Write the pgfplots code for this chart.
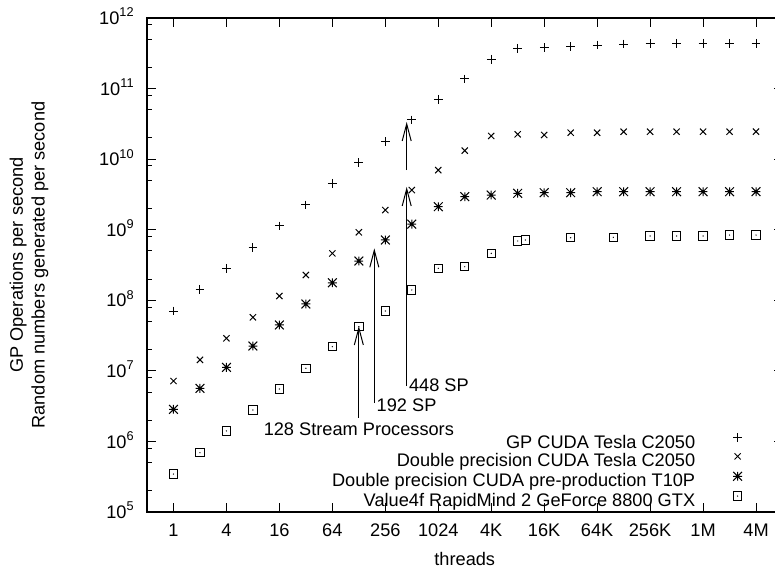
\documentclass[border=0pt]{standalone}
\usepackage{fontspec}
\setmainfont{Liberation Sans}
\usepackage{pgfplots}
\pgfplotsset{compat=1.18}
\usetikzlibrary{arrows.meta}

\pgfdeclareplotmark{gpstar}{%
  \pgfpathmoveto{\pgfqpoint{-\pgfplotmarksize}{0pt}}\pgfpathlineto{\pgfqpoint{\pgfplotmarksize}{0pt}}%
  \pgfpathmoveto{\pgfqpoint{0pt}{-\pgfplotmarksize}}\pgfpathlineto{\pgfqpoint{0pt}{\pgfplotmarksize}}%
  \pgfpathmoveto{\pgfqpoint{-\pgfplotmarksize}{-\pgfplotmarksize}}\pgfpathlineto{\pgfqpoint{\pgfplotmarksize}{\pgfplotmarksize}}%
  \pgfpathmoveto{\pgfqpoint{-\pgfplotmarksize}{\pgfplotmarksize}}\pgfpathlineto{\pgfqpoint{\pgfplotmarksize}{-\pgfplotmarksize}}%
  \pgfusepathqstroke}
\pgfdeclareplotmark{sqdot}{%
  \pgfpathrectangle{\pgfqpoint{-\pgfplotmarksize}{-\pgfplotmarksize}}{\pgfqpoint{2\pgfplotmarksize}{2\pgfplotmarksize}}%
  \pgfusepathqstroke
  \pgfpathcircle{\pgfpointorigin}{0.35pt}\pgfusepathqfill}

\begin{document}
\begin{tikzpicture}[font=\fontsize{9.1}{10.9}\selectfont]
\useasboundingbox (-73.5pt,-28.5pt) rectangle (314pt,256pt);
\clip (-73.5pt,-28.5pt) rectangle (314pt,256pt);
\begin{axis}[
  at={(0pt,0pt)}, anchor=south west,
  scale only axis, width=317.75pt, height=247pt,
  xmode=log, ymode=log,
  xmin=0.5, xmax=8388608, ymin=1e5, ymax=1e12,
  xtick={1,4,16,64,256,1024,4096,16384,65536,262144,1048576,4194304},
  xticklabels={1,4,16,64,256,1024,4K,16K,64K,256K,1M,4M},
  ytick={1e5,1e6,1e7,1e8,1e9,1e10,1e11,1e12},
  yticklabels={10\textsuperscript{5},10\textsuperscript{6},10\textsuperscript{7},10\textsuperscript{8},10\textsuperscript{9},10\textsuperscript{10},10\textsuperscript{11},10\textsuperscript{12}},
  minor ytick={2e5,5e5,8e5,2e6,5e6,8e6,2e7,5e7,8e7,2e8,5e8,8e8,2e9,5e9,8e9,2e10,5e10,8e10,2e11,5e11,8e11},
  minor xtick={},
  tick align=inside, tick pos=both,
  major tick length=4.5pt, minor tick length=2.5pt,
  every tick/.style={black, line width=0.5pt},
  axis line style={line width=0.9pt},
  xticklabel style={anchor=base, yshift=-12.25pt, inner sep=0pt},
  yticklabel style={anchor=base east, xshift=-6pt, yshift=-3.3pt, inner sep=0pt},
  xlabel={threads},
  xlabel style={at={(axis description cs:0.5,-0.1073)}, anchor=base, inner sep=0pt},
  ylabel={GP Operations per second\\Random numbers generated per second},
  ylabel style={at={(axis description cs:-0.1857,0.5)}, anchor=center, align=center, inner sep=0pt},
  legend cell align=right, legend plot pos=right,
  legend image code/.code={\draw[mark repeat=2,mark phase=2,#1] plot coordinates {(-5pt,3.2pt) (0pt,3.2pt) (5pt,3.2pt)};},
  legend style={draw=none, fill=none, at={(rel axis cs:0.9363,0.1593)}, anchor=north east,
    inner sep=0pt, outer sep=0pt, row sep=0pt, /tikz/column sep=19pt,
    nodes={inner sep=0pt, text height=6.6pt, text depth=2.55pt}},
]
\addplot[only marks, mark=+, mark size=2.2pt, line width=0.5pt, black] coordinates {
(1,7.05e7) (2,1.43e8) (4,2.84e8) (8,5.63e8) (16,1.13e9) (32,2.24e9) (64,4.55e9) (128,8.9e9)
(256,1.77e10) (512,3.59e10) (1024,7.05e10) (2048,1.37e11) (4096,2.6e11) (8192,3.72e11)
(16384,3.8e11) (32768,3.92e11) (65536,4.14e11) (131072,4.28e11) (262144,4.38e11)
(524288,4.38e11) (1048576,4.38e11) (2097152,4.38e11) (4194304,4.38e11)};
\addlegendentry{GP CUDA Tesla C2050}
\addplot[only marks, mark=x, mark size=2.2pt, line width=0.5pt, black] coordinates {
(1,7.18e6) (2,1.43e7) (4,2.89e7) (8,5.74e7) (16,1.15e8) (32,2.28e8) (64,4.62e8) (128,9.19e8)
(256,1.9e9) (512,3.65e9) (1024,7.0e9) (2048,1.32e10) (4096,2.13e10) (8192,2.25e10)
(16384,2.2e10) (32768,2.37e10) (65536,2.37e10) (131072,2.45e10) (262144,2.45e10)
(524288,2.45e10) (1048576,2.45e10) (2097152,2.45e10) (4194304,2.45e10)};
\addlegendentry{Double precision CUDA Tesla C2050}
\addplot[only marks, mark=gpstar, mark size=2.2pt, line width=0.5pt, black] coordinates {
(1,2.85e6) (2,5.65e6) (4,1.12e7) (8,2.25e7) (16,4.47e7) (32,8.86e7) (64,1.77e8) (128,3.6e8)
(256,7.15e8) (512,1.2e9) (1024,2.12e9) (2048,2.94e9) (4096,3.1e9) (8192,3.28e9)
(16384,3.35e9) (32768,3.35e9) (65536,3.46e9) (131072,3.46e9) (262144,3.46e9)
(524288,3.46e9) (1048576,3.46e9) (2097152,3.46e9) (4194304,3.46e9)};
\addlegendentry{Double precision CUDA pre-production T10P}
\addplot[only marks, mark=sqdot, mark size=2.1pt, line width=0.5pt, black] coordinates {
(1,3.45e5) (2,6.92e5) (4,1.41e6) (8,2.79e6) (16,5.53e6) (32,1.09e7) (64,2.2e7) (128,4.22e7)
(256,7.05e7) (512,1.4e8) (1024,2.84e8) (2048,2.99e8) (4096,4.62e8) (8192,6.92e8)
(10000,7.15e8) (32768,7.7e8) (100000,7.8e8) (262144,8.15e8) (524288,8.15e8)
(1048576,8.15e8) (2097152,8.4e8) (4194304,8.4e8)};
\addlegendentry{Value4f RapidMind 2 GeForce 8800 GTX}

\draw[line width=0.5pt, -{Straight Barb[length=8.5pt,width=4.5pt]}] (axis cs:128,2.15e6) -- (axis cs:128,4.32e7);
\draw[line width=0.5pt, -{Straight Barb[length=8.5pt,width=4.5pt]}] (axis cs:192,3.5e6) -- (axis cs:192,5.45e8);
\draw[line width=0.5pt, -{Straight Barb[length=8.5pt,width=4.5pt]}] (axis cs:448,6.1e6) -- (axis cs:448,4.03e9);
\draw[line width=0.5pt, -{Straight Barb[length=8.5pt,width=4.5pt]}] (axis cs:448,7.0e9) -- (axis cs:448,3.36e10);
\node[anchor=center, inner sep=0pt] at (axis cs:128,1.51e6) {128 Stream Processors};
\node[anchor=west, inner sep=1pt] at (axis cs:192,3.21e6) {192 SP};
\node[anchor=west, inner sep=1pt] at (axis cs:448,6.3e6) {448 SP};
\end{axis}
\end{tikzpicture}
\end{document}
